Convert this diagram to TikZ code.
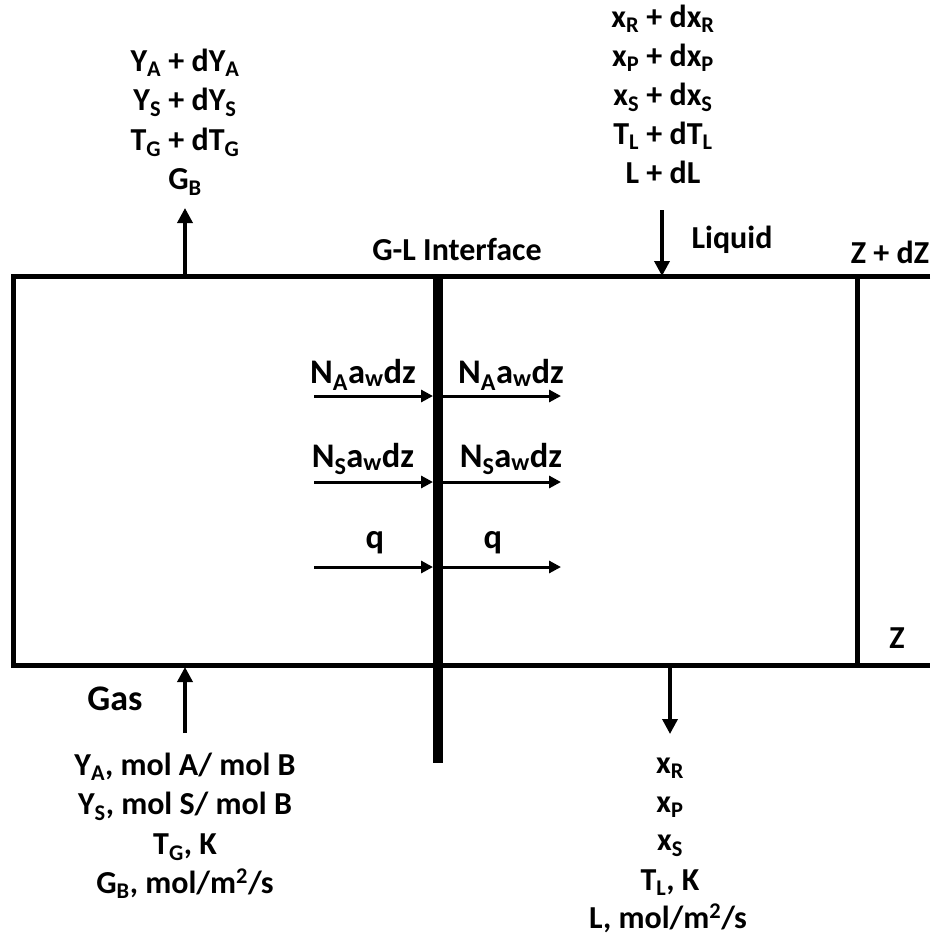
\documentclass[tikz,border=0pt]{standalone}
\usepackage{fontspec}
\setmainfont{Carlito}
\usetikzlibrary{arrows.meta}
\newcommand{\sbs}[1]{\textsubscript{#1}}
\newcommand{\sps}[1]{\textsuperscript{#1}}
\tikzset{
  lbl/.style={font=\fontsize{32}{39}\selectfont\bfseries, inner sep=0pt, anchor=base},
  flux/.style={lbl, font=\fontsize{34.5}{40}\selectfont\bfseries},
  boxline/.style={line width=5pt, line join=miter},
  interbar/.style={line width=10pt},
  vflow/.style={line width=3.5pt, -{Triangle[length=15pt,width=15pt]}},
  hflow/.style={line width=3pt, -{Triangle[length=12pt,width=12pt]}}
}
\begin{document}
\begin{tikzpicture}[x=1pt,y=-1pt]
\useasboundingbox (0,0) rectangle (930,938);
% box
\draw[boxline] (930,276.5) -- (13,276.5) -- (13,665) -- (930,665);
\draw[line width=4.5pt] (857.5,276.5) -- (857.5,665);
% interface
\coordinate (barT) at (438,274);
\coordinate (barB) at (438,763);
\draw[interbar] (barT) -- (barB);
% vertical flows
\coordinate (gasOutS) at (185,276);
\coordinate (gasOutE) at (185,208);
\draw[vflow] (gasOutS) -- (gasOutE);
\coordinate (liqInS) at (662,210);
\coordinate (liqInE) at (662,276);
\draw[vflow] (liqInS) -- (liqInE);
\coordinate (gasInS) at (185,733);
\coordinate (gasInE) at (185,667);
\draw[vflow] (gasInS) -- (gasInE);
\coordinate (liqOutS) at (670,665);
\coordinate (liqOutE) at (670,734);
\draw[vflow] (liqOutS) -- (liqOutE);
% horizontal flows
\foreach \yy/\nm in {396/a,482/s,567/q}{
  \coordinate (L\nm) at (314,\yy);
  \coordinate (M\nm) at (433,\yy);
  \coordinate (N\nm) at (443,\yy);
  \coordinate (R\nm) at (561,\yy);
  \draw[hflow] (L\nm) -- (M\nm);
  \draw[hflow] (N\nm) -- (R\nm);
}
% flux labels
\node[flux] (naL) at (363,383) {N\sbs{A}a\sbs{w}dz};
\node[flux] (naR) at (511,383) {N\sbs{A}a\sbs{w}dz};
\node[flux] (nsL) at (363,467) {N\sbs{S}a\sbs{w}dz};
\node[flux] (nsR) at (511,467) {N\sbs{S}a\sbs{w}dz};
\node[flux] (qL) at (375,548) {q};
\node[flux] (qR) at (493,548) {q};
% other labels
\node[lbl] (gl) at (457,260) {G-L Interface};
\node[lbl] (liq) at (732,248) {Liquid};
\node[lbl] (zdz) at (890,263) {Z + dZ};
\node[lbl] (z) at (897,648) {Z};
\node[lbl, font=\fontsize{36}{40}\selectfont\bfseries] (gas) at (115,710) {Gas};
% top-left block
\node[lbl] (tl1) at (185,71) {Y\sbs{A} + dY\sbs{A}};
\node[lbl] (tl2) at (185,110.5) {Y\sbs{S} + dY\sbs{S}};
\node[lbl] (tl3) at (185,150) {T\sbs{G} + dT\sbs{G}};
\node[lbl] (tl4) at (185,189.5) {G\sbs{B}};
% top-right block
\node[lbl] (tr1) at (663,27) {x\sbs{R} + dx\sbs{R}};
\node[lbl] (tr2) at (663,66) {x\sbs{P} + dx\sbs{P}};
\node[lbl] (tr3) at (663,105) {x\sbs{S} + dx\sbs{S}};
\node[lbl] (tr4) at (663,144) {T\sbs{L} + dT\sbs{L}};
\node[lbl] (tr5) at (663,183) {L + dL};
% bottom-left block
\node[lbl] (bl1) at (185,775) {Y\sbs{A}, mol A/ mol B};
\node[lbl] (bl2) at (185,814) {Y\sbs{S}, mol S/ mol B};
\node[lbl] (bl3) at (185,854) {T\sbs{G}, K};
\node[lbl] (bl4) at (185,893) {G\sbs{B}, mol/m\sps{2}/s};
% bottom-right block
\node[lbl] (br1) at (670,773) {x\sbs{R}};
\node[lbl] (br2) at (670,812) {x\sbs{P}};
\node[lbl] (br3) at (670,850.5) {x\sbs{S}};
\node[lbl] (br4) at (670,890) {T\sbs{L}, K};
\node[lbl] (br5) at (668,928) {L, mol/m\sps{2}/s};
\end{tikzpicture}
\end{document}
